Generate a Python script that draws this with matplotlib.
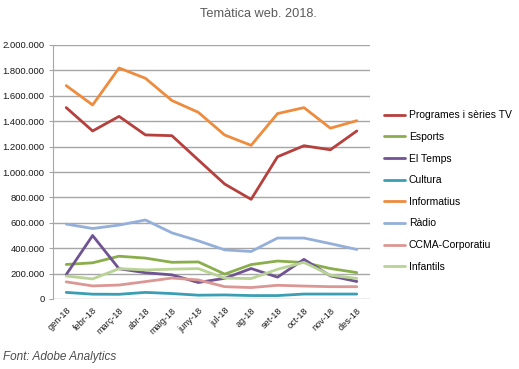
import matplotlib
matplotlib.use("Agg")
import matplotlib.pyplot as plt
from matplotlib.ticker import FuncFormatter

plt.rcParams['font.family'] = ['Liberation Sans', 'DejaVu Sans']

months = ["gen-18", "febr-18", "març-18", "abr-18", "maig-18", "juny-18",
          "jul-18", "ag-18", "set-18", "oct-18", "nov-18", "des-18"]

programes = [1507000, 1323000, 1438000, 1292000, 1286000, 1095000, 905000, 785000, 1120000, 1207000, 1175000, 1323000]
esports = [272000, 285000, 337000, 322000, 289000, 292000, 196000, 271000, 299000, 287000, 240000, 208000]
el_temps = [192000, 500000, 238000, 207000, 190000, 130000, 163000, 240000, 172000, 312000, 182000, 138000]
cultura = [52000, 38000, 37000, 52000, 43000, 30000, 32000, 27000, 27000, 39000, 39000, 39000]
informatius = [1680000, 1528000, 1819000, 1738000, 1563000, 1470000, 1291000, 1210000, 1460000, 1507000, 1345000, 1404000]
radio = [590000, 555000, 582000, 622000, 521000, 458000, 387000, 374000, 480000, 480000, 436000, 390000]
ccma = [135000, 103000, 110000, 137000, 165000, 150000, 97000, 90000, 108000, 102000, 97000, 97000]
infantils = [181000, 158000, 239000, 229000, 235000, 239000, 164000, 161000, 234000, 289000, 187000, 162000]

series_names = ["Programes i sèries TV", "Esports", "El Temps", "Cultura",
                "Informatius", "Ràdio", "CCMA-Corporatiu", "Infantils"]
series_values = [programes, esports, el_temps, cultura, informatius, radio, ccma, infantils]
colors = ["#B5403D", "#8AAE4C", "#6F5392", "#3A9FB4", "#EE8B3D", "#94AFD9", "#DB9794", "#B9D395"]

title = "Temàtica web. 2018."
source = "Font: Adobe Analytics"

fig = plt.figure(figsize=(5.19, 3.69), dpi=100)
ax = fig.add_axes([53/519, 1-299/369, (370-53)/519, (299-45)/369])

x = list(range(len(months)))
lines = []
for name, vals, c in zip(series_names, series_values, colors):
    ln, = ax.plot(x, vals, color=c, lw=2.0, label=name, solid_capstyle="round")
    lines.append(ln)

ax.set_ylim(0, 2000000)
ax.set_xlim(-0.5, len(months) - 0.5)
ax.set_yticks(range(0, 2000001, 200000))
ax.yaxis.set_major_formatter(FuncFormatter(lambda v, p: f"{int(v):,}".replace(",", ".")))
ax.grid(axis="y", color="#A6A6A6", lw=1.0)
ax.set_axisbelow(True)
for s in ["top", "right", "bottom"]:
    ax.spines[s].set_visible(False)
ax.spines["left"].set_color("#A6A6A6")
ax.tick_params(axis="y", labelsize=6.8, length=3, color="#A6A6A6", pad=3, labelcolor="#1a1a1a")
ax.set_xticks(x)
ax.set_xticklabels(months, rotation=45, ha="right", rotation_mode="anchor", fontsize=6.6, color="#1a1a1a")
ax.tick_params(axis="x", length=0, pad=5)

fig.text(258/519, 1-14/369, title, ha="center", va="center", fontsize=9.2, color="#595959")
fig.text(3/519, 1-357/369, source, ha="left", va="center", fontsize=8.5, style="italic", color="#4d4d4d")

leg = fig.legend(handles=lines, loc="upper left", bbox_to_anchor=(380/519, 1-106/369),
                 frameon=False, fontsize=7.5, handlelength=2.0, handletextpad=0.35,
                 labelspacing=1.12, borderaxespad=0)

fig.savefig("out.png", dpi=100)
